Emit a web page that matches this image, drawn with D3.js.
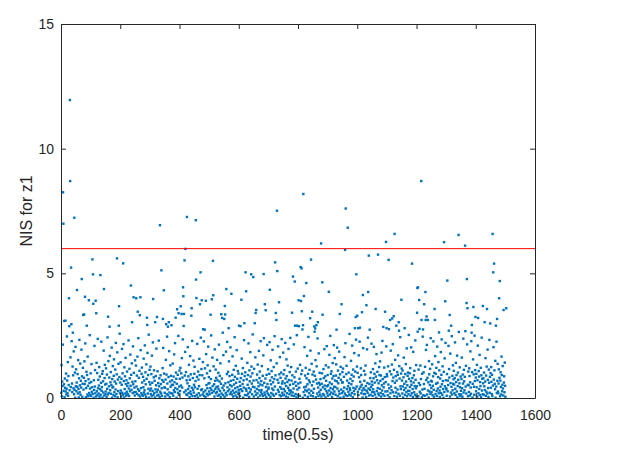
<!DOCTYPE html>
<html>
<head>
<meta charset="utf-8">
<script src="https://cdn.jsdelivr.net/npm/d3@7"></script>
<style>
  body { margin: 0; background: #fff; }
  svg { display: block; font-family: "Liberation Sans", Arial, sans-serif; }
</style>
</head>
<body>
<svg id="chart" width="626" height="460"></svg>
<script>
// x axis / y axis ticks
const xTicks = [0, 200, 400, 600, 800, 1000, 1200, 1400, 1600];
const yTicks = [0, 5, 10, 15];
const threshold = 5.99;

const peakT = [7, 8, 11, 15, 27, 28, 30, 31, 34, 35, 40, 45, 54, 70, 75, 78, 81, 87, 94, 106,
  108, 109, 117, 119, 133, 145, 159, 164, 189, 195, 196, 210, 236, 240, 245, 254, 259, 266, 268, 290,
  291, 311, 318, 324, 334, 339, 344, 347, 355, 361, 364, 373, 387, 392, 397, 404, 407, 412, 413, 414,
  415, 417, 420, 425, 440, 441, 455, 456, 457, 469, 471, 475, 480, 485, 489, 505, 509, 513, 514, 541,
  544, 546, 551, 553, 554, 558, 566, 575, 601, 606, 609, 619, 623, 625, 642, 649, 654, 657, 659, 684,
  688, 691, 705, 723, 725, 727, 729, 730, 736, 780, 783, 789, 790, 797, 802, 803, 809, 810, 812, 813,
  815, 817, 818, 820, 828, 841, 844, 848, 855, 856, 858, 862, 867, 878, 882, 883, 904, 930, 941, 947,
  959, 961, 968, 992, 995, 997, 1000, 1003, 1009, 1016, 1019, 1031, 1037, 1039, 1042, 1062, 1070, 1088, 1094, 1097,
  1099, 1106, 1107, 1111, 1118, 1123, 1126, 1132, 1140, 1141, 1149, 1160, 1185, 1202, 1203, 1204, 1205, 1209, 1210, 1216,
  1217, 1222, 1226, 1230, 1231, 1234, 1238, 1261, 1262, 1276, 1293, 1297, 1304, 1309, 1312, 1317, 1342, 1343, 1364, 1365,
  1369, 1370, 1372, 1386, 1387, 1392, 1399, 1408, 1424, 1430, 1438, 1449, 1457, 1459, 1462, 1468, 1472, 1479, 1481, 1494,
  1503];
const peakV = [8.25, 6.99, 3.09, 3.10, 4.00, 2.88, 11.95, 8.70, 5.23, 2.96, 2.62, 7.23, 4.33, 4.77, 3.33, 3.35, 4.06, 2.90, 3.92, 5.56,
  4.96, 3.78, 3.90, 3.40, 4.93, 4.37, 3.26, 2.86, 5.60, 2.90, 3.68, 5.40, 4.51, 3.04, 4.04, 4.00, 3.46, 3.32, 4.04, 3.22,
  2.93, 3.97, 3.04, 3.25, 6.93, 5.12, 3.17, 4.32, 2.96, 2.86, 3.04, 2.92, 3.22, 3.56, 3.40, 3.68, 3.37, 4.44, 4.08, 2.89,
  3.37, 5.52, 5.98, 7.26, 3.30, 3.60, 7.13, 4.75, 4.01, 3.76, 5.04, 3.92, 2.76, 2.74, 3.90, 3.34, 3.96, 5.50, 4.12, 3.36,
  3.21, 2.62, 3.17, 3.69, 3.35, 4.37, 2.80, 4.18, 2.90, 2.88, 3.94, 3.00, 5.04, 4.28, 4.96, 4.85, 3.00, 3.41, 3.53, 4.97,
  3.76, 3.52, 4.34, 5.44, 3.41, 3.13, 7.51, 5.09, 3.84, 3.42, 4.87, 4.67, 2.90, 2.90, 3.92, 2.88, 5.25, 3.89, 5.20, 3.48,
  2.75, 2.92, 8.18, 4.09, 4.61, 3.20, 5.55, 3.46, 2.87, 2.66, 2.79, 2.92, 3.04, 6.20, 4.64, 3.34, 4.26, 2.74, 3.37, 3.76,
  5.94, 7.60, 6.83, 2.80, 3.25, 4.96, 3.30, 2.80, 2.82, 3.44, 4.13, 3.72, 4.25, 5.71, 2.74, 3.57, 5.75, 2.85, 3.46, 6.26,
  2.80, 5.54, 2.76, 3.13, 3.19, 3.28, 6.58, 2.90, 3.04, 2.70, 3.94, 2.80, 5.39, 3.42, 4.41, 2.66, 4.44, 3.93, 2.77, 8.70,
  3.13, 2.75, 3.76, 4.25, 3.13, 3.27, 3.13, 3.57, 3.13, 2.63, 6.25, 3.88, 4.71, 2.70, 3.33, 2.90, 6.54, 2.65, 6.11, 2.68,
  3.81, 4.77, 3.60, 2.62, 2.93, 3.65, 3.25, 3.21, 3.69, 3.04, 3.57, 2.99, 6.58, 5.04, 5.39, 2.90, 3.17, 4.00, 4.69, 3.53,
  3.60];

// dense low band, one value per time step 1..1500 (estimated)
const baseNis = [
  0.21,1.32,0.07,0.66,0.48,2.14,0.12,0.93,0.29,0.55,1.71,0.03,0.78,0.41,1.18,0.26,0.98,0.14,0.37,2.47,0.70,0.19,1.44,0.09,0.88,
  0.52,0.04,1.09,0.31,0.83,0.17,1.63,0.44,0.11,0.72,2.28,0.58,0.24,1.26,0.06,0.91,0.39,1.87,0.15,0.63,0.33,1.02,0.01,2.05,0.47,
  1.15,0.27,0.62,0.09,0.45,0.96,0.18,1.52,0.36,0.02,0.79,2.33,0.23,0.51,1.38,0.13,0.69,0.42,1.94,0.30,0.87,0.05,0.57,1.21,0.16,
  0.34,0.81,0.10,1.47,0.56,0.22,2.19,0.68,0.03,0.40,1.05,0.28,0.92,0.14,1.66,0.49,0.07,0.75,1.29,0.20,0.60,2.52,0.38,0.12,0.99,
  0.08,0.64,1.36,0.25,0.43,0.90,0.16,1.78,0.53,0.01,0.71,0.32,2.09,0.46,1.12,0.19,0.84,0.06,0.59,1.41,0.27,1.00,0.11,2.37,0.39,
  0.73,0.18,0.50,1.24,0.05,0.86,0.35,1.59,0.13,0.61,2.26,0.29,0.44,0.97,0.02,1.08,0.67,0.22,1.90,0.41,0.10,0.80,1.33,0.54,0.15,
  0.26,1.19,0.57,0.04,0.94,0.37,2.43,0.14,0.70,1.48,0.20,0.47,0.82,0.09,1.69,0.31,0.63,1.04,0.17,0.52,2.02,0.01,0.76,0.42,1.28,
  0.45,0.11,0.89,1.55,0.23,0.66,0.07,1.14,0.34,2.21,0.58,0.16,0.95,0.40,1.83,0.03,0.74,0.28,1.37,0.50,0.12,0.84,2.58,0.19,0.62,
  1.43,0.30,0.06,0.77,0.53,1.97,0.21,0.99,0.13,0.44,2.16,0.68,0.02,1.23,0.36,0.87,0.18,1.61,0.56,0.09,0.71,0.25,1.06,0.48,0.14,
  0.15,0.60,2.31,0.38,0.08,1.17,0.79,0.27,1.74,0.49,0.12,0.93,0.33,1.39,0.04,0.65,0.20,2.07,0.55,0.86,1.01,0.23,0.42,0.10,1.51,
  0.67,0.24,1.30,0.03,0.46,0.90,0.17,1.66,0.59,0.35,2.40,0.11,0.81,0.29,1.09,0.52,0.06,0.73,1.92,0.40,0.19,0.97,1.22,0.62,0.13,
  0.09,0.85,0.43,1.58,0.22,0.70,0.31,2.11,0.14,1.03,0.55,0.05,1.35,0.77,0.26,0.48,1.81,0.18,0.92,0.37,2.54,0.01,0.64,1.13,0.30,
  0.54,1.26,0.16,0.38,0.96,0.07,1.70,0.61,0.28,2.23,0.44,0.12,0.83,1.11,0.20,0.69,0.02,1.49,0.35,0.88,0.51,1.98,0.24,0.75,0.10,
  1.07,0.33,0.60,0.13,2.30,0.47,0.79,0.04,1.42,0.25,0.91,0.56,0.18,1.64,0.39,0.08,0.72,1.20,0.29,2.01,0.65,0.15,0.98,0.43,0.21,
  0.41,0.06,0.74,1.53,0.27,0.94,0.16,2.46,0.58,0.35,1.16,0.11,0.84,0.49,1.88,0.22,0.03,0.66,1.31,0.45,0.89,0.19,2.12,0.53,0.71,
  0.18,1.38,0.52,0.09,0.86,0.31,1.75,0.63,0.24,2.20,0.40,0.14,1.02,0.77,0.01,0.57,1.27,0.35,0.93,0.21,2.49,0.68,0.12,0.46,1.10,
  0.77,0.28,1.21,0.05,0.50,0.99,0.17,1.60,0.42,0.82,2.35,0.11,0.64,0.34,1.46,0.23,0.08,0.90,1.85,0.55,0.30,1.04,0.14,0.71,0.38,
  0.12,0.59,2.04,0.36,0.87,0.20,1.33,0.47,0.03,0.73,1.68,0.26,0.95,0.15,1.12,0.61,0.41,2.29,0.08,0.80,0.33,1.50,0.22,0.53,0.97,
  1.25,0.43,0.07,0.68,0.29,1.91,0.56,0.13,0.85,2.17,0.37,0.02,1.06,0.74,0.19,0.48,1.57,0.92,0.25,0.10,0.63,2.42,0.32,1.16,0.51,
  0.35,0.91,0.14,1.44,0.62,0.23,2.27,0.08,0.79,0.45,1.19,0.30,0.04,0.70,1.76,0.52,0.17,0.99,0.39,1.31,0.11,2.06,0.58,0.84,0.26,
  0.60,0.16,1.09,0.40,0.01,0.76,2.51,0.33,0.94,0.21,1.62,0.48,0.10,0.87,1.27,0.27,0.55,0.06,1.95,0.69,0.37,1.14,0.19,0.81,0.44,
  0.24,1.53,0.71,0.09,0.46,1.01,0.35,2.14,0.13,0.66,0.89,0.28,1.39,0.04,0.57,2.38,0.18,0.78,1.18,0.41,0.95,0.12,1.72,0.50,0.31,
  0.83,0.05,0.38,1.23,0.59,0.20,1.86,0.74,0.11,0.96,2.25,0.43,0.27,1.05,0.63,0.02,1.47,0.34,0.88,0.16,0.52,2.03,0.69,0.23,1.32,
  0.47,0.14,0.93,1.67,0.30,0.06,0.72,1.13,0.54,0.21,2.44,0.85,0.39,0.10,1.29,0.61,0.25,1.92,0.03,0.77,0.44,1.08,0.17,0.98,0.33,
  1.36,0.22,0.65,0.08,0.49,2.09,0.80,0.35,0.15,1.58,0.97,0.28,0.56,1.20,0.01,0.71,0.42,2.32,0.19,0.88,0.12,1.03,0.60,0.37,1.78,
  0.29,0.75,0.11,1.41,0.53,0.92,0.18,2.19,0.40,0.04,1.11,0.67,0.24,1.84,0.86,0.34,0.07,1.26,0.58,0.15,0.99,2.55,0.45,0.21,0.70,
  0.06,1.17,0.43,0.84,0.26,1.63,0.57,0.13,2.01,0.72,0.36,0.94,0.19,1.34,0.02,0.62,0.47,1.89,0.31,0.80,1.06,0.10,0.54,2.28,0.23,
  0.68,0.32,1.28,0.16,0.51,0.89,0.08,1.71,0.39,2.40,0.61,0.22,1.00,0.13,0.78,1.45,0.44,0.03,0.93,0.27,2.13,0.56,0.18,1.15,0.36,
  0.42,0.12,0.97,2.24,0.29,0.70,0.05,1.51,0.55,0.20,1.08,0.83,0.38,1.93,0.14,0.63,0.32,1.24,0.09,0.76,2.48,0.46,0.24,0.91,1.37,
  0.17,0.86,1.39,0.50,0.04,0.73,0.33,2.07,0.61,0.25,1.19,0.95,0.12,1.64,0.44,0.81,0.07,1.02,0.37,2.36,0.58,0.21,0.67,0.11,1.82,
  0.95,0.36,0.13,1.12,0.59,0.27,2.21,0.78,0.06,0.48,1.55,0.88,0.19,0.64,1.30,0.02,0.41,1.97,0.72,0.31,0.15,1.04,0.53,2.41,0.23,
  0.30,1.24,0.70,0.10,0.45,0.91,0.22,1.76,0.57,0.38,2.15,0.08,0.83,0.26,1.42,0.64,0.16,1.06,0.49,0.03,2.52,0.75,0.34,1.18,0.13,
  0.58,0.19,1.87,0.41,0.77,0.09,1.33,0.62,0.28,2.30,0.96,0.14,0.52,1.10,0.35,0.01,0.85,1.59,0.24,0.68,0.43,2.04,0.11,0.90,0.32,
  1.21,0.46,0.15,0.79,0.27,1.69,0.55,0.05,0.97,2.45,0.34,0.71,0.20,1.13,0.63,0.40,1.90,0.10,0.82,0.29,1.37,0.51,0.17,0.94,0.07,
  0.21,0.66,1.06,0.37,2.18,0.12,0.89,0.48,1.52,0.03,0.74,0.31,1.27,0.58,0.18,2.39,0.93,0.42,0.08,1.79,0.61,0.25,1.01,0.53,0.14,
  0.76,0.33,1.45,0.06,0.57,0.99,0.24,2.27,0.43,0.16,1.16,0.80,0.11,1.96,0.50,0.36,0.87,0.02,1.31,0.69,0.28,2.08,0.47,0.19,0.92,
  0.09,0.51,1.23,0.84,0.30,1.73,0.62,0.14,2.49,0.40,0.97,0.22,1.07,0.56,0.04,0.78,1.40,0.35,0.17,0.88,2.12,0.45,0.26,1.60,0.70,
  0.44,0.13,0.90,1.35,0.23,0.67,2.02,0.38,0.07,1.10,0.59,0.81,0.27,1.86,0.16,0.49,0.95,0.01,1.25,0.73,0.34,2.33,0.20,0.62,1.04,
  0.63,1.18,0.27,0.05,0.85,0.42,1.64,0.18,0.74,2.20,0.54,0.11,0.96,1.29,0.36,0.70,0.08,1.91,0.47,0.25,1.02,0.60,0.14,2.57,0.39,
  0.32,0.77,0.10,1.49,0.55,0.93,0.20,2.10,0.68,0.03,1.14,0.41,0.86,0.28,1.80,0.15,0.61,1.06,0.37,0.12,2.34,0.79,0.46,1.26,0.22,
  1.01,0.25,0.58,0.12,1.71,0.83,0.36,2.26,0.07,0.65,0.45,1.19,0.92,0.19,0.53,1.43,0.30,0.02,0.75,2.00,0.40,0.16,1.09,0.69,0.33,
  0.16,0.94,1.30,0.48,0.04,0.72,0.29,1.95,0.60,0.21,2.42,0.87,0.38,1.12,0.10,0.56,1.58,0.33,0.80,0.13,1.03,0.44,2.18,0.66,0.24,
  0.53,0.08,1.16,0.35,0.79,2.05,0.23,0.97,0.62,0.14,1.39,0.45,0.86,0.01,1.76,0.28,0.71,1.05,0.40,2.50,0.18,0.59,0.11,1.24,0.92,
  0.37,1.47,0.69,0.20,0.90,0.06,1.82,0.51,0.30,2.29,0.76,0.15,1.00,0.43,0.58,1.22,0.09,0.84,1.67,0.26,0.64,0.12,2.07,0.47,0.96,
  0.87,0.27,0.11,1.27,0.54,0.74,2.37,0.39,0.03,1.07,0.63,0.19,1.90,0.46,0.95,0.31,1.34,0.14,0.68,2.16,0.23,0.82,0.50,1.13,0.08,
  0.12,0.61,1.53,0.41,0.88,0.22,2.11,0.70,0.05,1.04,0.34,0.93,1.71,0.17,0.55,0.27,1.28,0.78,0.09,2.44,0.47,0.36,0.98,0.14,1.18,
  0.70,0.18,1.10,0.46,0.02,0.83,1.62,0.32,0.57,2.24,0.13,0.96,0.40,1.36,0.66,0.24,1.99,0.07,0.51,0.89,1.02,0.29,0.15,2.53,0.77,
  0.28,0.99,0.44,1.20,0.10,0.67,2.03,0.53,0.19,1.45,0.80,0.36,0.04,1.85,0.62,0.91,0.23,1.09,0.48,0.13,2.31,0.73,0.39,1.32,0.06,
  0.47,0.15,1.74,0.85,0.31,0.07,1.14,0.60,0.92,2.19,0.25,0.52,1.30,0.18,0.76,0.41,1.57,0.03,0.97,0.34,2.46,0.65,0.11,1.03,0.56,
  0.90,0.37,0.09,1.25,0.58,0.21,1.93,0.72,0.44,2.13,0.14,0.81,1.08,0.30,0.63,0.02,1.48,0.95,0.26,0.52,1.17,0.17,2.40,0.69,0.40,
  0.23,0.66,1.35,0.11,0.49,0.87,2.27,0.33,0.05,1.01,0.74,0.42,1.68,0.16,0.97,0.57,1.21,0.28,0.08,2.06,0.61,0.38,0.84,1.44,0.19,
  0.62,1.11,0.30,0.04,0.78,0.45,1.84,0.20,0.93,2.35,0.55,0.13,1.27,0.68,0.36,0.01,1.05,0.86,0.24,1.59,0.47,0.10,2.21,0.71,0.39,
  0.35,0.09,0.96,1.50,0.27,0.70,0.52,2.09,0.16,1.16,0.82,0.41,0.06,1.78,0.60,0.22,1.03,0.45,2.48,0.14,0.89,0.31,1.31,0.57,0.75,
  1.09,0.54,0.19,0.80,2.23,0.37,0.12,1.41,0.64,0.92,0.26,1.70,0.03,0.48,1.02,0.73,0.33,2.01,0.15,0.59,1.23,0.43,0.08,0.86,0.29,
  0.14,0.76,1.62,0.39,0.05,0.94,0.58,2.38,0.22,1.13,0.67,0.31,0.85,1.96,0.11,0.46,1.29,0.18,0.72,0.99,2.15,0.35,0.53,0.07,1.06,
  0.51,0.24,1.19,0.88,0.10,0.63,1.87,0.42,0.17,2.28,0.79,0.34,1.04,0.02,0.57,1.55,0.29,0.95,0.45,0.13,2.50,0.68,1.12,0.21,0.82,
  0.27,0.97,0.43,1.33,0.06,0.71,2.10,0.55,0.19,1.08,0.86,0.36,1.73,0.12,0.64,0.48,1.21,0.03,0.91,2.42,0.30,0.77,0.15,1.46,0.59,
  0.79,0.13,1.02,0.47,2.19,0.32,0.66,1.60,0.09,0.90,0.25,1.26,0.54,0.18,1.94,0.73,0.40,0.04,1.14,0.61,2.33,0.21,0.85,0.37,1.00,
  0.41,1.24,0.65,0.16,0.93,0.08,1.80,0.50,0.29,2.04,0.74,0.12,1.11,0.57,0.35,1.49,0.01,0.83,0.46,2.26,0.20,0.96,0.69,1.37,0.26,
  0.19,0.58,1.15,0.33,0.81,2.45,0.07,0.70,1.03,0.44,0.14,1.66,0.92,0.27,0.53,1.28,0.38,0.10,2.12,0.62,0.87,0.23,1.42,0.49,0.05
];

const svg = d3.select("#chart");
const margin = { top: 24, right: 91, bottom: 62, left: 61 };
const width = +svg.attr("width") - margin.left - margin.right;
const height = +svg.attr("height") - margin.top - margin.bottom;
const axisColor = "#262626";

const g = svg.append("g")
  .attr("transform", `translate(${margin.left},${margin.top})`);

const x = d3.scaleLinear().domain([0, 1600]).range([0, width]);
const y = d3.scaleLinear().domain([0, 15]).range([height, 0]);

// merge: readable peaks replace the base value at their time step
const peakSet = new Set(peakT);
const points = baseNis
  .map((v, i) => ({ t: i + 1, v }))
  .filter(d => !peakSet.has(d.t))
  .concat(peakT.map((t, i) => ({ t, v: peakV[i] })));

// markers
const s = 2.4;
g.append("g")
  .selectAll("rect")
  .data(points)
  .join("rect")
  .attr("x", d => x(d.t) - s / 2)
  .attr("y", d => y(d.v) - s / 2)
  .attr("width", s)
  .attr("height", s)
  .attr("fill", "#0072BD");

// threshold line
g.append("line")
  .attr("x1", x(0))
  .attr("x2", x(1600))
  .attr("y1", y(threshold))
  .attr("y2", y(threshold))
  .attr("stroke", "#ff0000")
  .attr("stroke-width", 1);

// axes, ticks pointing inward like matlab
function styleAxis(sel) {
  sel.select(".domain").attr("stroke", axisColor);
  sel.selectAll(".tick line").attr("stroke", axisColor);
  sel.selectAll(".tick text").attr("fill", axisColor).style("font-size", "14px");
}

const fmt = d3.format("d");

g.append("g")
  .attr("transform", `translate(0,${height})`)
  .call(d3.axisBottom(x).tickValues(xTicks).tickFormat(fmt).tickSizeInner(-5).tickSizeOuter(0).tickPadding(12))
  .call(styleAxis);

g.append("g")
  .call(d3.axisTop(x).tickValues(xTicks).tickSizeInner(-5).tickSizeOuter(0).tickFormat(""))
  .call(styleAxis);

g.append("g")
  .call(d3.axisLeft(y).tickValues(yTicks).tickFormat(fmt).tickSizeInner(-5).tickSizeOuter(0).tickPadding(7))
  .call(styleAxis);

g.append("g")
  .attr("transform", `translate(${width},0)`)
  .call(d3.axisRight(y).tickValues(yTicks).tickSizeInner(-5).tickSizeOuter(0).tickFormat(""))
  .call(styleAxis);

// axis labels
svg.append("text")
  .attr("x", margin.left + width / 2)
  .attr("y", 440)
  .attr("text-anchor", "middle")
  .attr("fill", axisColor)
  .style("font-size", "16px")
  .text("time(0.5s)");

svg.append("text")
  .attr("transform", `translate(32,${margin.top + height / 2}) rotate(-90)`)
  .attr("text-anchor", "middle")
  .attr("fill", axisColor)
  .style("font-size", "16px")
  .text("NIS for z1");
</script>
</body>
</html>
